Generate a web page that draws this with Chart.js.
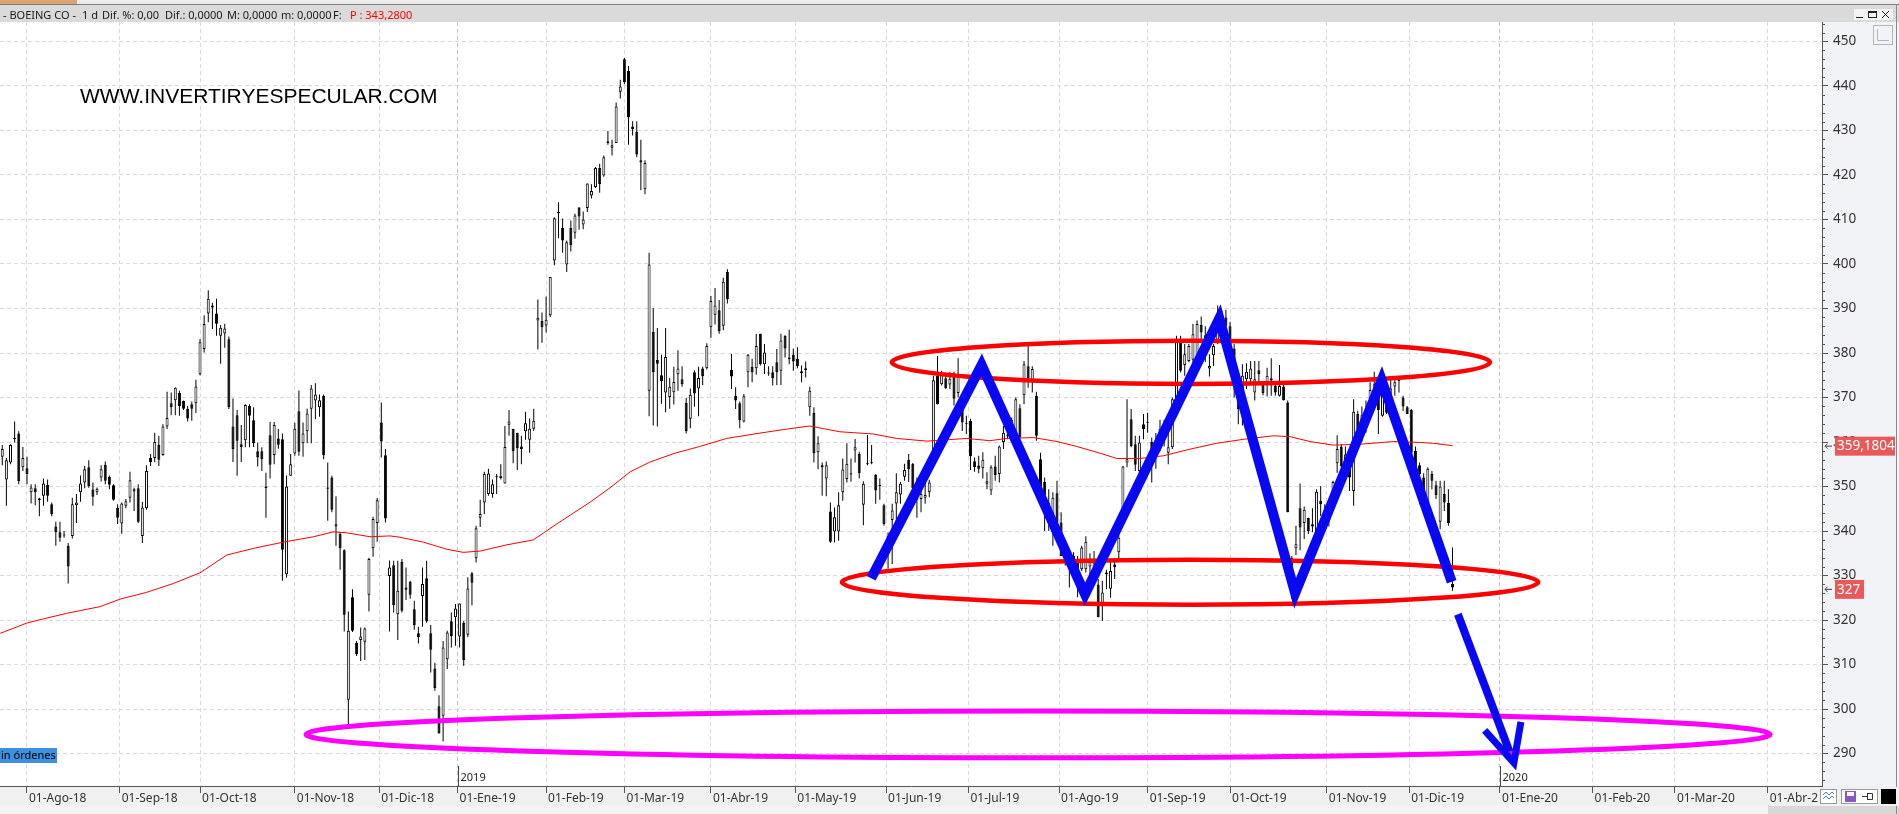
<!DOCTYPE html>
<html lang="es">
<head>
<meta charset="UTF-8">
<title>BOEING CO - 1 d</title>
<script src="https://cdn.jsdelivr.net/npm/chart.js"></script>
<style>
  html, body { margin: 0; padding: 0; background: #fff; }
  canvas { display: block; }
</style>
</head>
<body>
<canvas id="grafico" width="1899" height="814"></canvas>
<script>
// ---- datos (velas diarias, indice de sesion; 0 = 01-Ago-18) ----
const firstIndex = -6;
const opens = [
  356.7, 351.6, 355.4, 360.9, 361.9, 354.3, 354.1, 348.7, 349.6, 347.3,
  347.9, 350.4, 346.0, 341.0, 339.7, 339.2, 336.7, 338.9, 345.8, 348.7,
  350.9, 354.3, 349.3, 348.7, 352.0, 354.9, 352.2, 350.3, 345.2, 341.7,
  345.7, 347.5, 348.9, 349.6, 338.9, 345.1, 356.4, 356.4, 359.3, 357.1,
  363.5, 368.7, 369.4, 371.0, 369.2, 367.5, 368.5, 368.7, 375.2, 380.9,
  388.9, 390.7, 388.9, 383.9, 384.4, 383.1, 363.5, 366.0, 359.5, 360.4,
  368.1, 364.9, 357.9, 357.9, 349.6, 361.5, 357.1, 360.8, 360.6, 330.3,
  352.4, 357.4, 366.9, 359.7, 362.4, 367.5, 369.3, 367.8, 370.4, 349.8,
  352.0, 341.0, 339.3, 335.7, 302.1, 325.1, 314.9, 315.5, 315.1, 325.7,
  336.1, 341.8, 364.4, 357.0, 329.9, 332.3, 321.3, 333.1, 327.3, 328.6,
  322.4, 317.0, 325.4, 329.4, 317.0, 309.1, 300.6, 298.5, 311.2, 319.7,
  320.6, 316.3, 319.4, 316.7, 330.5, 333.9, 343.0, 346.4, 348.3, 348.3,
  352.3, 351.9, 350.7, 363.9, 362.9, 362.0, 359.0, 362.4, 360.5, 363.0,
  387.3, 387.2, 386.2, 388.5, 400.8, 411.7, 408.1, 399.9, 408.1, 407.0,
  412.7, 408.9, 412.6, 415.4, 417.3, 421.6, 419.9, 427.6, 426.1, 427.2,
  438.7, 446.0, 443.4, 430.9, 429.7, 423.3, 416.8, 371.5, 384.7, 378.4,
  375.0, 371.1, 370.1, 371.2, 375.2, 374.1, 368.8, 365.2, 375.7, 372.0,
  376.5, 376.6, 385.8, 388.6, 389.6, 386.1, 398.2, 376.2, 370.4, 368.7,
  364.6, 375.7, 376.9, 376.6, 384.3, 377.5, 375.6, 375.7, 377.9, 376.0,
  383.9, 378.6, 379.6, 378.7, 375.5, 376.2, 367.8, 366.5, 357.7, 354.8,
  351.8, 344.4, 339.9, 339.9, 348.7, 351.7, 353.0, 358.1, 357.3, 345.9,
  355.1, 355.3, 352.6, 350.2, 345.8, 338.2, 342.5, 346.2, 348.2, 352.2,
  356.0, 355.1, 347.0, 347.2, 347.5, 348.7, 357.7, 374.9, 373.0, 374.3,
  372.9, 374.8, 371.0, 368.2, 364.3, 364.8, 355.7, 354.7, 354.1, 350.6,
  349.1, 354.5, 352.8, 360.0, 361.4, 361.0, 361.0, 367.6, 370.5, 377.0,
  373.4, 370.4, 356.1, 351.0, 341.9, 339.7, 348.5, 341.9, 336.6, 333.7,
  334.4, 333.0, 331.4, 331.4, 332.0, 331.8, 328.0, 323.2, 330.7, 327.0,
  332.5, 335.2, 342.3, 355.4, 365.1, 359.5, 353.5, 364.0, 364.4, 360.0,
  357.0, 360.0, 363.0, 357.6, 358.8, 369.3, 383.1, 377.3, 378.2, 378.5,
  378.3, 386.3, 384.0, 376.5, 379.5, 383.0, 388.0, 388.0, 386.0, 381.0,
  371.9, 369.6, 374.1, 374.1, 371.1, 376.1, 373.2, 373.4, 374.3, 372.6,
  370.4, 372.5, 368.9, 334.0, 336.1, 345.1, 341.8, 342.9, 341.5, 339.7,
  346.8, 342.0, 342.5, 345.7, 355.2, 359.0, 356.1, 355.0, 349.0, 366.3,
  364.0, 365.9, 369.8, 370.0, 370.0, 365.9, 370.0, 370.0, 372.5, 373.8,
  370.0, 367.8, 367.2, 358.0, 354.8, 352.0, 346.0, 352.8, 350.3, 342.1,
  348.3, 346.3, 328.1
];
const highs = [
  359.3, 356.4, 359.5, 364.6, 362.4, 358.9, 356.7, 350.5, 350.5, 347.5,
  351.8, 351.6, 346.4, 342.1, 342.1, 340.0, 337.3, 347.5, 348.3, 352.5,
  354.6, 355.9, 350.9, 349.8, 354.8, 355.6, 352.5, 350.5, 346.0, 346.4,
  347.2, 353.3, 349.7, 350.5, 346.6, 354.8, 357.3, 362.1, 361.4, 364.0,
  371.3, 371.1, 372.3, 371.5, 369.3, 368.1, 369.1, 374.0, 383.1, 388.5,
  394.1, 391.3, 392.2, 386.3, 386.6, 383.7, 369.8, 367.2, 363.8, 368.5,
  368.5, 367.8, 359.9, 358.8, 353.1, 364.5, 364.5, 362.9, 361.9, 352.5,
  357.3, 364.3, 371.6, 364.4, 367.5, 372.8, 373.2, 370.7, 370.7, 355.4,
  352.4, 347.8, 339.8, 335.9, 321.9, 326.9, 315.3, 318.3, 318.3, 334.0,
  343.2, 347.4, 368.9, 358.4, 333.4, 333.3, 333.3, 333.7, 331.8, 328.8,
  324.3, 318.5, 331.8, 333.3, 318.9, 310.4, 303.1, 315.3, 317.6, 321.7,
  323.6, 323.7, 319.8, 329.6, 330.8, 341.2, 347.0, 353.3, 354.0, 351.6,
  352.8, 355.0, 363.6, 367.2, 363.0, 362.1, 361.4, 366.8, 365.3, 367.5,
  392.0, 389.1, 392.7, 397.1, 410.5, 413.9, 410.2, 405.3, 409.8, 411.3,
  412.8, 411.8, 418.1, 417.9, 421.8, 422.5, 424.4, 429.9, 427.9, 436.3,
  441.4, 446.3, 444.5, 432.1, 432.1, 427.9, 423.3, 402.5, 390.1, 385.6,
  379.6, 385.6, 374.4, 376.9, 380.6, 377.0, 369.9, 372.0, 376.1, 376.9,
  376.9, 382.2, 392.8, 394.6, 391.9, 396.9, 398.8, 379.8, 372.3, 369.1,
  370.8, 379.8, 378.7, 384.3, 384.3, 382.0, 377.0, 377.0, 380.9, 384.3,
  384.0, 385.2, 381.0, 381.3, 377.2, 378.1, 372.4, 367.8, 361.3, 355.4,
  355.6, 346.4, 345.3, 348.7, 356.3, 359.7, 356.3, 360.7, 357.8, 351.2,
  361.6, 359.3, 352.8, 351.8, 346.1, 339.7, 346.1, 353.0, 351.0, 355.1,
  357.3, 355.3, 352.0, 350.9, 351.7, 351.5, 374.9, 379.3, 376.0, 374.9,
  375.8, 375.8, 378.8, 368.9, 365.9, 365.2, 356.5, 356.9, 357.7, 353.2,
  354.8, 356.9, 359.2, 363.6, 362.5, 365.5, 370.0, 368.5, 378.2, 381.8,
  377.0, 371.3, 357.6, 352.0, 349.4, 348.7, 351.3, 344.2, 337.4, 335.2,
  335.2, 334.4, 336.7, 338.8, 335.0, 335.5, 329.2, 328.8, 331.3, 333.0,
  333.8, 342.7, 354.6, 369.6, 367.4, 361.4, 361.4, 366.3, 366.6, 361.0,
  362.0, 365.0, 365.0, 362.9, 370.0, 383.9, 383.9, 382.0, 382.0, 386.5,
  387.3, 388.2, 386.0, 379.7, 382.0, 390.7, 389.5, 389.7, 387.0, 382.0,
  373.0, 377.5, 377.7, 378.2, 378.2, 378.2, 373.5, 376.7, 378.8, 373.0,
  377.3, 373.0, 369.3, 334.4, 341.2, 350.7, 345.5, 343.0, 345.1, 349.4,
  350.1, 346.0, 347.0, 351.3, 361.5, 359.5, 359.0, 357.0, 369.6, 367.0,
  368.0, 369.3, 373.4, 375.8, 373.0, 374.5, 373.0, 374.0, 374.1, 374.3,
  370.4, 368.1, 367.4, 359.0, 355.4, 353.0, 354.3, 353.5, 351.3, 351.3,
  351.3, 349.4, 336.3
];
const lows = [
  354.8, 345.7, 355.0, 359.9, 350.5, 353.5, 350.5, 346.2, 345.8, 343.3,
  345.7, 346.6, 343.3, 336.7, 337.6, 338.5, 328.2, 338.3, 341.8, 346.6,
  349.6, 349.7, 345.7, 348.1, 351.1, 350.5, 349.4, 346.8, 341.6, 339.4,
  345.1, 346.4, 344.5, 341.8, 337.3, 344.8, 354.6, 355.5, 354.6, 356.9,
  362.9, 366.0, 366.0, 365.9, 367.2, 364.6, 364.8, 366.5, 375.0, 380.1,
  386.9, 385.4, 383.9, 377.6, 381.2, 367.4, 355.5, 352.4, 355.5, 358.8,
  358.8, 358.9, 354.5, 353.5, 343.0, 351.8, 355.0, 358.5, 328.8, 329.5,
  352.4, 356.9, 356.9, 356.7, 359.7, 359.7, 365.1, 365.7, 356.1, 342.3,
  344.2, 336.7, 331.3, 317.4, 296.6, 317.3, 311.9, 310.8, 311.0, 321.9,
  334.2, 337.6, 356.5, 341.9, 317.4, 321.7, 315.5, 321.7, 324.5, 324.8,
  317.8, 314.7, 318.5, 319.4, 308.2, 304.1, 294.5, 292.7, 309.0, 313.8,
  314.2, 313.8, 309.7, 316.1, 323.3, 332.9, 340.9, 343.8, 347.9, 347.5,
  348.3, 351.6, 350.7, 361.4, 355.2, 353.7, 355.0, 360.5, 357.6, 362.5,
  380.8, 382.3, 384.6, 388.1, 399.7, 405.8, 402.5, 398.2, 402.8, 405.7,
  407.7, 407.8, 411.7, 414.7, 417.1, 416.0, 419.6, 426.8, 424.4, 427.2,
  437.2, 440.4, 426.8, 428.9, 424.0, 416.6, 415.7, 365.8, 363.7, 363.5,
  368.6, 366.7, 367.5, 368.4, 371.5, 372.4, 361.9, 363.1, 367.9, 365.8,
  372.8, 376.3, 383.4, 386.4, 384.3, 385.1, 391.1, 371.9, 367.4, 363.1,
  364.4, 372.3, 373.4, 375.1, 377.2, 375.3, 374.9, 372.7, 372.8, 372.8,
  379.0, 377.5, 376.0, 376.6, 373.4, 374.5, 365.9, 355.4, 353.9, 347.9,
  347.8, 337.3, 337.5, 337.8, 346.8, 350.9, 351.1, 355.4, 351.8, 341.3,
  354.8, 355.0, 346.1, 347.0, 341.2, 331.5, 332.6, 340.0, 346.1, 351.3,
  351.0, 349.4, 343.0, 344.2, 346.1, 347.6, 357.6, 368.4, 372.7, 371.9,
  371.9, 368.2, 370.0, 362.5, 361.8, 353.7, 353.3, 353.0, 351.8, 349.4,
  348.1, 351.3, 350.9, 358.4, 360.6, 360.0, 360.6, 360.6, 368.5, 372.2,
  371.1, 360.3, 349.4, 340.0, 340.0, 336.7, 339.8, 334.4, 332.2, 327.3,
  330.3, 325.1, 331.0, 330.7, 328.5, 329.5, 320.6, 319.8, 326.9, 325.0,
  329.2, 333.7, 341.9, 354.3, 358.8, 353.5, 351.6, 360.6, 362.1, 350.9,
  354.0, 358.0, 359.0, 355.0, 358.4, 368.9, 375.6, 374.9, 377.9, 377.9,
  377.0, 382.7, 378.0, 374.7, 377.1, 382.0, 383.0, 385.7, 379.0, 370.0,
  364.0, 363.7, 371.9, 373.0, 369.3, 373.4, 370.5, 370.2, 370.4, 370.4,
  370.2, 369.3, 344.2, 324.7, 334.6, 335.7, 338.2, 339.3, 339.7, 339.3,
  343.4, 340.0, 341.0, 345.3, 353.1, 354.3, 354.6, 349.0, 345.7, 362.5,
  360.0, 362.1, 369.6, 369.0, 361.8, 365.7, 366.3, 366.0, 370.4, 371.1,
  367.0, 366.3, 356.9, 350.0, 346.0, 345.0, 345.7, 349.4, 347.2, 340.4,
  344.5, 341.2, 326.6
];
const closes = [
  358.4, 355.9, 359.3, 360.7, 351.2, 356.4, 352.8, 349.8, 348.7, 346.9,
  350.7, 347.9, 343.8, 339.7, 338.5, 339.0, 332.0, 346.0, 346.4, 350.7,
  353.9, 350.1, 347.7, 349.5, 353.9, 351.3, 350.4, 347.0, 343.0, 346.2,
  346.7, 351.4, 349.4, 342.1, 345.3, 353.5, 355.5, 360.0, 356.0, 363.5,
  365.4, 367.8, 372.2, 368.1, 367.5, 365.3, 367.5, 372.5, 382.4, 386.5,
  392.2, 390.2, 386.6, 385.7, 385.5, 367.8, 358.4, 360.3, 358.9, 368.3,
  365.9, 359.7, 356.5, 356.1, 350.0, 354.9, 363.8, 359.4, 335.8, 350.0,
  355.0, 363.0, 357.8, 361.9, 366.4, 372.0, 370.7, 369.4, 357.0, 349.5,
  344.8, 341.5, 336.1, 321.2, 317.6, 317.6, 312.3, 316.3, 318.1, 333.7,
  342.7, 346.9, 360.1, 342.8, 331.8, 323.4, 326.6, 322.1, 326.8, 325.7,
  318.9, 316.2, 328.1, 319.7, 313.3, 304.7, 294.5, 313.8, 317.2, 316.4,
  322.6, 323.7, 311.0, 327.1, 328.4, 340.6, 343.8, 352.8, 352.9, 350.5,
  352.1, 352.4, 358.9, 364.6, 358.0, 358.6, 358.4, 364.2, 363.0, 364.8,
  387.9, 385.8, 387.5, 397.1, 410.3, 411.4, 405.3, 404.9, 404.2, 410.9,
  410.7, 410.0, 418.1, 416.4, 421.6, 417.9, 424.0, 427.2, 426.7, 435.4,
  439.9, 440.9, 433.0, 430.3, 424.6, 422.8, 422.7, 399.9, 375.7, 377.6,
  373.7, 379.1, 372.4, 373.5, 376.5, 373.0, 362.4, 370.6, 370.9, 374.4,
  374.8, 381.6, 391.7, 390.7, 384.9, 396.0, 392.1, 374.7, 369.3, 364.9,
  370.3, 379.6, 375.7, 381.6, 377.5, 380.1, 375.4, 374.3, 375.7, 382.8,
  381.0, 379.0, 378.1, 377.0, 375.9, 376.6, 371.5, 357.5, 359.7, 354.3,
  354.8, 337.6, 343.1, 345.8, 353.8, 355.1, 352.7, 358.8, 353.0, 350.6,
  355.0, 355.2, 349.1, 350.1, 341.6, 338.8, 344.6, 348.7, 350.6, 353.7,
  353.9, 349.6, 350.0, 348.3, 348.1, 350.9, 373.9, 368.5, 375.1, 372.1,
  374.2, 369.7, 375.3, 364.4, 364.1, 356.8, 354.3, 354.0, 356.0, 351.2,
  354.3, 352.6, 359.0, 362.1, 361.7, 365.0, 369.6, 361.0, 377.5, 374.3,
  376.4, 361.4, 350.1, 348.0, 346.4, 347.5, 341.9, 334.4, 334.0, 331.4,
  332.9, 331.4, 336.3, 337.6, 333.0, 332.9, 320.6, 326.2, 330.3, 331.0,
  331.9, 338.5, 354.5, 356.1, 359.1, 354.9, 359.9, 362.9, 364.3, 357.0,
  360.0, 363.0, 361.0, 358.8, 369.6, 383.1, 376.0, 379.7, 381.6, 384.2,
  386.5, 384.6, 381.0, 377.1, 381.6, 388.0, 386.0, 386.1, 381.0, 376.0,
  367.4, 374.9, 375.8, 376.5, 374.1, 375.2, 371.0, 374.9, 373.8, 371.1,
  372.6, 369.4, 344.2, 332.2, 337.0, 340.8, 344.8, 340.0, 341.0, 348.8,
  346.0, 344.7, 345.6, 351.0, 358.4, 354.6, 357.2, 352.0, 366.8, 362.9,
  366.0, 367.4, 371.7, 373.0, 367.2, 372.2, 366.6, 372.0, 373.4, 373.7,
  368.0, 366.3, 357.6, 353.0, 352.8, 348.0, 354.0, 351.3, 348.1, 350.0,
  346.4, 341.8, 327.3
];

// media movil (roja), leida a trozos del grafico
const maIdx = [-6.5, 0.2, 9.6, 17.7, 22.6, 29, 35.5, 42, 48.5, 55, 62.2, 69.5, 74.3, 77.6, 83.3, 88.1, 90.5,
  96.2, 101.9, 105.9, 110, 116.5, 122.9, 128.6, 136.7, 141.5, 146.4, 151.2, 157.3, 163.3, 169.8, 177.9,
  184.4, 190, 197.3, 205.4, 211.1, 218.4, 228.1, 233.7, 237.8, 244.3, 250, 254.8, 260.4, 264.5, 270.1,
  275.8, 282.3, 288.7, 295.2, 302.5, 306.6, 311.4, 317.1, 323.5, 331.7, 338.2, 341.4, 346];
const maVal = [317.0, 319.4, 321.5, 323.0, 324.7, 326.2, 328.2, 330.6, 334.6, 336.1, 337.5, 338.7, 339.8, 339.6, 338.7, 338.9, 338.6,
  337.5, 335.9, 335.2, 335.5, 336.9, 338.0, 341.6, 346.5, 349.7, 353.3, 355.5, 357.5, 359.0, 360.8, 362.0,
  362.9, 363.6, 362.3, 361.8, 360.8, 360.2, 360.8, 360.3, 360.8, 361.0, 360.1, 359.0, 357.5, 356.3, 356.3,
  356.9, 358.4, 359.7, 360.6, 361.4, 361.2, 360.1, 359.3, 359.5, 360.1, 359.9, 359.7, 359.18];

// eje x: primer dia de cada mes (en indice de sesion)
const monthTicks = [0, 22.5, 42, 65, 85.5, 104.5, 126, 145, 166, 186.5, 208.5, 228.5, 250.5, 272, 292, 315.5, 335.5, 357.5, 380, 400, 422.5];
const monthLabels = ['01-Ago-18', '01-Sep-18', '01-Oct-18', '01-Nov-18', '01-Dic-18', '01-Ene-19', '01-Feb-19', '01-Mar-19',
  '01-Abr-19', '01-May-19', '01-Jun-19', '01-Jul-19', '01-Ago-19', '01-Sep-19', '01-Oct-19', '01-Nov-19', '01-Dic-19',
  '01-Ene-20', '01-Feb-20', '01-Mar-20', '01-Abr-20'];
const yearTicks = [104.5, 357.5];
const yearLabels = ['2019', '2020'];
const yTicks = [290, 300, 310, 320, 330, 340, 350, 360, 370, 380, 390, 400, 410, 420, 430, 440, 450];
const maLast = 359.1804;
const lastClose = 327;

// dibujos del autor (en coordenadas de datos)
const ellipses = [
  { x: 282.5, y: 377.9, rx: 72.6, ry: 4.85, color: '#ff0000', width: 4.5 },
  { x: 282.3, y: 328.5, rx: 84.5, ry: 5.05, color: '#ff0000', width: 4.5 },
  { x: 245.4, y: 294.3, rx: 177.7, ry: 5.25, color: '#ff00ff', width: 5 }
];
const zigzag = [[204.9, 329.4], [231.7, 377.3], [256.8, 325.8], [289.4, 387.8], [307.8, 326.0], [328.8, 373.9], [345.8, 328.6]];
const arrowShaft = [[347.3, 321.3], [359.8, 290.5]];
const arrowHead = [[353.8, 295.2], [360.9, 287.9], [362.6, 297.1]];

const idx = opens.map((_, k) => firstIndex + k);
const isUp = opens.map((o, k) => closes[k] >= o);

Chart.defaults.font.family = '"Noto Sans", "DejaVu Sans", sans-serif';

const fondo = {
  id: 'fondo',
  beforeDraw(chart) {
    const c = chart.ctx, a = chart.chartArea, W = chart.width;
    c.save();
    // cabecera de la ventana
    c.fillStyle = '#ececec'; c.fillRect(0, 0, W, 4);
    c.fillStyle = '#dba272'; c.fillRect(0, 0, 77, 4);
    c.fillStyle = '#7d7d7d'; c.fillRect(0, 4, W, 1);
    c.fillStyle = '#dadada'; c.fillRect(0, 5, W, a.top - 5);
    // panel del eje de precios
    c.fillStyle = '#f2f3f6'; c.fillRect(a.right, a.top, W - a.right, a.bottom - a.top);
    // banda del eje de fechas y barra inferior
    c.fillStyle = '#f0f0f0'; c.fillRect(0, a.bottom, W, 20);
    c.fillStyle = '#f4f4f4'; c.fillRect(0, 806, W, 8);
    c.fillStyle = '#d8d8d8'; c.fillRect(1768, 806, 131, 8);
    c.restore();
  },
  beforeDatasetsDraw(chart) {
    const c = chart.ctx;
    c.save();
    c.fillStyle = '#000';
    c.font = '21px "Liberation Sans", Arial, sans-serif';
    c.textBaseline = 'middle';
    c.fillText('WWW.INVERTIRYESPECULAR.COM', 80, 97.5);
    c.restore();
  }
};

const marcas = {
  id: 'marcas',
  afterDatasetsDraw(chart) {
    const c = chart.ctx, a = chart.chartArea, x = chart.scales.x, y = chart.scales.y;
    const px = p => [x.getPixelForValue(p[0]), y.getPixelForValue(p[1])];
    c.save();
    c.beginPath(); c.rect(a.left, a.top, a.right - a.left, a.bottom - a.top); c.clip();
    ellipses.forEach(e => {
      const cx = x.getPixelForValue(e.x), cy = y.getPixelForValue(e.y);
      const rx = x.getPixelForValue(e.x + e.rx) - cx, ry = cy - y.getPixelForValue(e.y + e.ry);
      c.beginPath(); c.ellipse(cx, cy, rx, ry, 0, 0, Math.PI * 2);
      c.strokeStyle = e.color; c.lineWidth = e.width; c.stroke();
    });
    c.strokeStyle = '#0808f4';
    c.lineJoin = 'miter'; c.lineCap = 'butt';
    const poly = (pts, w) => {
      c.beginPath();
      pts.forEach((p, k) => { const q = px(p); k ? c.lineTo(q[0], q[1]) : c.moveTo(q[0], q[1]); });
      c.lineWidth = w; c.stroke();
    };
    poly(zigzag, 10);
    poly(arrowShaft, 8);
    poly(arrowHead, 7);
    c.restore();
  }
};

const rotulos = {
  id: 'rotulos',
  afterDraw(chart) {
    const c = chart.ctx, a = chart.chartArea, x = chart.scales.x, y = chart.scales.y;
    c.save();
    // titulo
    c.font = '11px "Noto Sans", sans-serif';
    c.textBaseline = 'alphabetic';
    [['- BOEING CO -', 3], ['1 d', 82], ['Dif. %: 0,00', 102], ['Dif.: 0,0000', 165], ['M: 0,0000', 227], ['m: 0,0000', 281], ['F:', 333]]
      .forEach(t => { c.fillStyle = '#1a1a1a'; c.fillText(t[0], t[1], 18.5); });
    c.fillStyle = '#ff0000'; c.fillText('P : 343,2800', 350, 18.5);
    // botones de la ventana
    c.fillStyle = '#f4f4f4'; c.fillRect(1854, 9, 39, 11);
    c.strokeStyle = '#222'; c.lineWidth = 1;
    c.beginPath(); c.moveTo(1856, 17.5); c.lineTo(1863, 17.5); c.stroke();
    c.strokeRect(1868.5, 11.5, 8, 6); c.beginPath(); c.moveTo(1868.5, 12.5); c.lineTo(1876.5, 12.5); c.stroke();
    c.beginPath(); c.moveTo(1882, 11); c.lineTo(1889, 18); c.moveTo(1889, 11); c.lineTo(1882, 18); c.stroke();
    c.fillStyle = '#8a8a8a'; c.fillRect(1896, 4, 1, 810);
    // icono del panel
    c.strokeStyle = '#b4b4b4'; c.strokeRect(1873.5, 25.5, 19, 19);
    c.beginPath(); c.moveTo(1877.5, 29); c.lineTo(1877.5, 40.5); c.lineTo(1889, 40.5); c.stroke();
    // marcas menores del eje de precios
    c.strokeStyle = '#555';
    for (let v = 284; v <= 454; v += 2) {
      if (v % 10 === 0) continue;
      const py = Math.round(y.getPixelForValue(v)) + 0.5;
      c.beginPath(); c.moveTo(a.right, py); c.lineTo(a.right + 3, py); c.stroke();
    }
    // etiquetas rojas del eje
    c.font = '13.5px "Noto Sans", sans-serif';
    c.textBaseline = 'middle';
    [[maLast, '359,1804', 60], [lastClose, String(lastClose), 29]].forEach(l => {
      const py = y.getPixelForValue(l[0]);
      c.fillStyle = '#e85a5a'; c.fillRect(1835, py - 9, l[2], 19);
      c.fillStyle = '#fff'; c.fillText(l[1], 1837, py + 1);
      c.strokeStyle = '#444';
      c.beginPath(); c.moveTo(1825, py + 0.5); c.lineTo(1832, py + 0.5);
      c.moveTo(1827.5, py - 2); c.lineTo(1825, py + 0.5); c.lineTo(1827.5, py + 3); c.stroke();
    });
    // separadores de ano
    c.font = '11px "Noto Sans", sans-serif';
    yearTicks.forEach((t, k) => {
      const px = Math.round(x.getPixelForValue(t)) + 0.5;
      c.strokeStyle = '#444';
      c.beginPath(); c.moveTo(px, 766); c.lineTo(px, a.bottom); c.stroke();
      c.fillStyle = '#222'; c.fillText(yearLabels[k], px + 2, 778);
    });
    // etiqueta azul
    c.fillStyle = '#3d8fe0'; c.fillRect(0, 748, 57, 15);
    c.fillStyle = '#000'; c.font = '11px "Noto Sans", sans-serif'; c.fillText('in órdenes', 1, 756);
    // iconos inferiores
    c.fillStyle = '#f0f0f0'; c.fillRect(1818, a.bottom + 1, 81, 19);
    c.fillStyle = '#fff'; c.strokeStyle = '#9a9a9a';
    c.fillRect(1820, 789, 17, 15); c.strokeRect(1820.5, 789.5, 16, 14);
    c.strokeStyle = '#3f7fd8';
    c.beginPath(); c.moveTo(1823, 795); c.lineTo(1826, 792); c.lineTo(1829, 795); c.lineTo(1832, 792); c.lineTo(1834, 794);
    c.moveTo(1823, 799); c.lineTo(1826, 796); c.lineTo(1829, 799); c.lineTo(1832, 796); c.lineTo(1834, 798); c.stroke();
    c.fillStyle = '#fff'; c.strokeStyle = '#9a9a9a';
    c.fillRect(1841, 789, 37, 15); c.strokeRect(1841.5, 789.5, 36, 14);
    c.fillStyle = '#8a55c8'; c.fillRect(1845, 791, 11, 11);
    c.fillStyle = '#fff'; c.fillRect(1847, 792, 7, 4);
    c.strokeStyle = '#333';
    c.beginPath(); c.moveTo(1862, 796.5); c.lineTo(1867, 796.5); c.moveTo(1867.5, 793); c.lineTo(1867.5, 800);
    c.moveTo(1867.5, 793.5); c.lineTo(1872.5, 793.5); c.lineTo(1872.5, 799.5); c.lineTo(1867.5, 799.5); c.stroke();
    c.fillStyle = '#000'; c.fillRect(1881, 789, 15, 15);
    c.restore();
  }
};

new Chart(document.getElementById('grafico'), {
  type: 'bar',
  data: {
    datasets: [
      {
        type: 'line', label: 'Media', order: 0,
        data: maIdx.map((v, k) => ({ x: v, y: maVal[k] })),
        borderColor: '#ff0000', borderWidth: 1, pointRadius: 0, tension: 0
      },
      {
        label: 'Cuerpo', order: 1, grouped: false,
        data: idx.map((v, k) => ({ x: v, y: [opens[k], closes[k]] })),
        backgroundColor: isUp.map(u => (u ? '#ffffff' : '#000000')),
        borderColor: '#000000', borderWidth: 1, borderSkipped: false,
        barThickness: 3, minBarLength: 1, inflateAmount: 0
      },
      {
        label: 'Mecha', order: 2, grouped: false,
        data: idx.map((v, k) => ({ x: v, y: [lows[k], highs[k]] })),
        backgroundColor: '#000000', borderWidth: 0, barThickness: 1, inflateAmount: 0
      }
    ]
  },
  options: {
    responsive: false,
    animation: false,
    devicePixelRatio: 1,
    layout: { padding: { top: 22, left: 0, right: 0, bottom: 0 } },
    plugins: { legend: { display: false }, tooltip: { enabled: false } },
    scales: {
      x: {
        type: 'linear', min: -6.55, max: 435.68, offset: false,
        grid: {
          offset: false, tickLength: 7, tickColor: '#555',
          color: ctx => (ctx.tick && yearTicks.includes(ctx.tick.value) ? '#c4c4c4' : '#dadada')
        },
        border: { color: '#555', dash: [4, 3] },
        ticks: {
          autoSkip: false, maxRotation: 0, minRotation: 0, align: 'start', labelOffset: 2, padding: 0,
          color: '#333', font: { size: 12, lineHeight: 1 },
          callback: (v, i) => monthLabels[i]
        },
        afterBuildTicks: s => { s.ticks = monthTicks.map(value => ({ value })); },
        afterFit: s => { s.height = 28; s.paddingLeft = 0; s.paddingRight = 0; }
      },
      y: {
        position: 'right', min: 282.7, max: 454.38, beginAtZero: false,
        grid: { color: '#dadada', tickLength: 6, tickColor: '#555' },
        border: { color: '#555', dash: [4, 3] },
        ticks: { padding: 5, color: '#333', font: { size: 13.5 }, callback: v => String(v) },
        afterBuildTicks: s => { s.ticks = yTicks.map(value => ({ value })); },
        afterFit: s => { s.width = 77; s.paddingTop = 0; s.paddingBottom = 0; }
      }
    }
  },
  plugins: [fondo, marcas, rotulos]
});
</script>
</body>
</html>
